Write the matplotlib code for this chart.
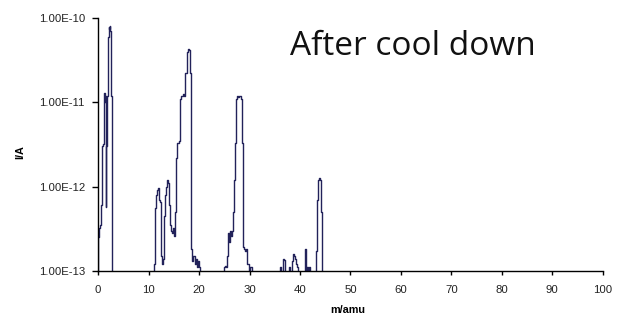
import matplotlib
matplotlib.use("Agg")
import matplotlib.pyplot as plt
import numpy as np

# ---- data; 1e-14 = below the plotted range ----
m1 = [-0.2, 0.0, 0.2, 0.4, 0.6, 0.8, 1.0, 1.2, 1.3, 1.4, 1.5, 1.6, 1.7, 1.8,
      1.9, 2.0, 2.1, 2.2, 2.3, 2.4, 2.5, 2.6, 2.7, 2.8, 2.9]
i1 = [1e-14, 2.5e-13, 3.2e-13, 3.5e-13, 6e-13, 3e-12, 3.2e-12, 8e-12, 1.3e-11,
      1.0e-11, 1.2e-11, 5.7e-13, 3e-12, 1.2e-11, 1.2e-11, 4.5e-11, 6e-11,
      7.9e-11, 7.5e-11, 8e-11, 7e-11, 1.2e-11, 1.2e-11, 1.2e-11, 1e-14]

m2 = [11.0, 11.2, 11.4, 11.6, 11.8, 12.0, 12.2, 12.4, 12.6, 12.8, 13.0, 13.2,
      13.4, 13.6, 13.8, 14.0, 14.2, 14.4, 14.6, 14.8, 15.0, 15.2, 15.4, 15.6,
      15.8, 16.0, 16.2, 16.4, 16.6, 16.8, 17.0, 17.2, 17.4, 17.6, 17.8, 18.0,
      18.2, 18.4, 18.6, 18.8, 19.0, 19.2, 19.4, 19.6, 19.8, 20.0, 20.2]
i2 = [1e-14, 1.2e-13, 5.5e-13, 8e-13, 9e-13, 9.5e-13, 7e-13, 6.5e-13, 1.5e-13,
      1.2e-13, 1.4e-13, 4.5e-13, 8e-13, 1.0e-12, 1.2e-12, 1.1e-12, 6e-13,
      3.5e-13, 3e-13, 2.8e-13, 3.2e-13, 2.6e-13, 5e-13, 2.2e-12, 3.3e-12,
      3.3e-12, 3.5e-12, 1.1e-11, 1.2e-11, 1.2e-11, 1.25e-11, 1.2e-11, 2.2e-11,
      2.2e-11, 4e-11, 4.3e-11, 4.2e-11, 2.2e-11, 1.8e-13, 1.3e-13, 1.5e-13,
      1.2e-13, 1.4e-13, 1.1e-13, 1.3e-13, 1.1e-13, 1e-14]

m3 = [24.8, 25.0, 25.2, 25.4, 25.6, 25.8, 26.0, 26.2, 26.4, 26.6, 26.8, 27.0,
      27.2, 27.4, 27.6, 27.8, 28.0, 28.2, 28.4, 28.6, 28.8, 29.0, 29.2, 29.4,
      29.6, 29.8, 30.0, 30.2, 30.4, 30.6]
i3 = [1e-14, 1.1e-13, 1.15e-13, 1.1e-13, 1.5e-13, 2.8e-13, 2.2e-13, 3e-13,
      2.6e-13, 3e-13, 5e-13, 1.2e-12, 3.3e-12, 1.1e-11, 1.2e-11, 1.15e-11,
      1.2e-11, 1.2e-11, 1.1e-11, 3.3e-12, 1.9e-13, 1.8e-13, 1.7e-13, 1.8e-13,
      1.2e-13, 1.2e-13, 1e-14, 1.1e-13, 1.1e-13, 1e-14]

m4 = [36.0, 36.2, 36.4, 36.6, 36.8, 37.0, 37.2, 37.4, 37.6, 37.8, 38.0, 38.2,
      38.4, 38.6, 38.8, 39.0, 39.2, 39.4, 39.6, 39.8, 40.0, 40.2, 40.4, 40.6,
      40.8, 41.0, 41.2, 41.4, 41.6, 41.8, 42.0, 42.2, 42.4, 42.6, 42.8, 43.0,
      43.2, 43.4, 43.6, 43.8, 44.0, 44.2, 44.4, 44.6]
i4 = [1e-14, 1.1e-13, 1e-14, 1e-14, 1.4e-13, 1.35e-13, 1e-14, 1e-14, 1e-14,
      1e-14, 1.1e-13, 1e-14, 1e-14, 1.3e-13, 1.6e-13, 1.5e-13, 1.4e-13, 1.2e-13,
      1.1e-13, 1e-14, 1e-14, 1e-14, 1e-14, 1e-14, 1e-14, 1.8e-13, 1e-14,
      1.1e-13, 1e-14, 1.1e-13, 1e-14, 1e-14, 1e-14, 1e-14, 1e-14, 1e-14,
      1.7e-13, 7e-13, 1.2e-12, 1.27e-12, 1.2e-12, 5e-13, 1e-14, 1e-14]

xticks = [0, 10, 20, 30, 40, 50, 60, 70, 80, 90, 100]
yticks = [1e-13, 1e-12, 1e-11, 1e-10]
yticklabels = ["1.00E-13", "1.00E-12", "1.00E-11", "1.00E-10"]
title = "After cool down"
xlabel = "m/amu"
ylabel = "I/A"

mass = np.array(m1 + m2 + m3 + m4)
inten = np.array(i1 + i2 + i3 + i4)

fig = plt.figure(figsize=(6.17, 3.21), dpi=100)
ax = fig.add_axes([0.159, 0.156, 0.818, 0.788])
ax.plot(mass, inten, drawstyle="steps-mid", color="#22225a", lw=1.0)
ax.set_yscale("log")
ax.set_xlim(0, 100)
ax.set_ylim(1e-13, 1e-10)
ax.set_xticks(xticks)
ax.set_xticklabels([str(t) for t in xticks], fontsize=8.2,
                   family="Liberation Sans", color="#222222")
ax.set_yticks(yticks)
ax.set_yticklabels(yticklabels, fontsize=8.2, family="Liberation Sans",
                   color="#222222")
ax.yaxis.set_minor_locator(matplotlib.ticker.NullLocator())
ax.tick_params(axis="x", direction="out", length=3, width=1, pad=7)
ax.tick_params(axis="y", direction="out", length=4, width=1, pad=5.5)
for s in ["top", "right"]:
    ax.spines[s].set_visible(False)
for s in ["left", "bottom"]:
    ax.spines[s].set_linewidth(1.0)
ax.set_xlabel(xlabel, fontsize=7.8, fontweight="bold", family="Liberation Sans")
ax.set_ylabel(ylabel, fontsize=7.8, fontweight="bold", family="Liberation Sans")
ax.xaxis.set_label_coords(0.495, -0.155)
ax.xaxis.label.set_va("center")
ax.yaxis.set_label_coords(-0.155, 0.47)
ax.yaxis.label.set_va("center")
fig.text(290 / 617, 1 - 55 / 321, title, fontsize=24, family="Open Sans",
         ha="left", va="baseline", color="#111111")
fig.savefig("out.png", dpi=100)
